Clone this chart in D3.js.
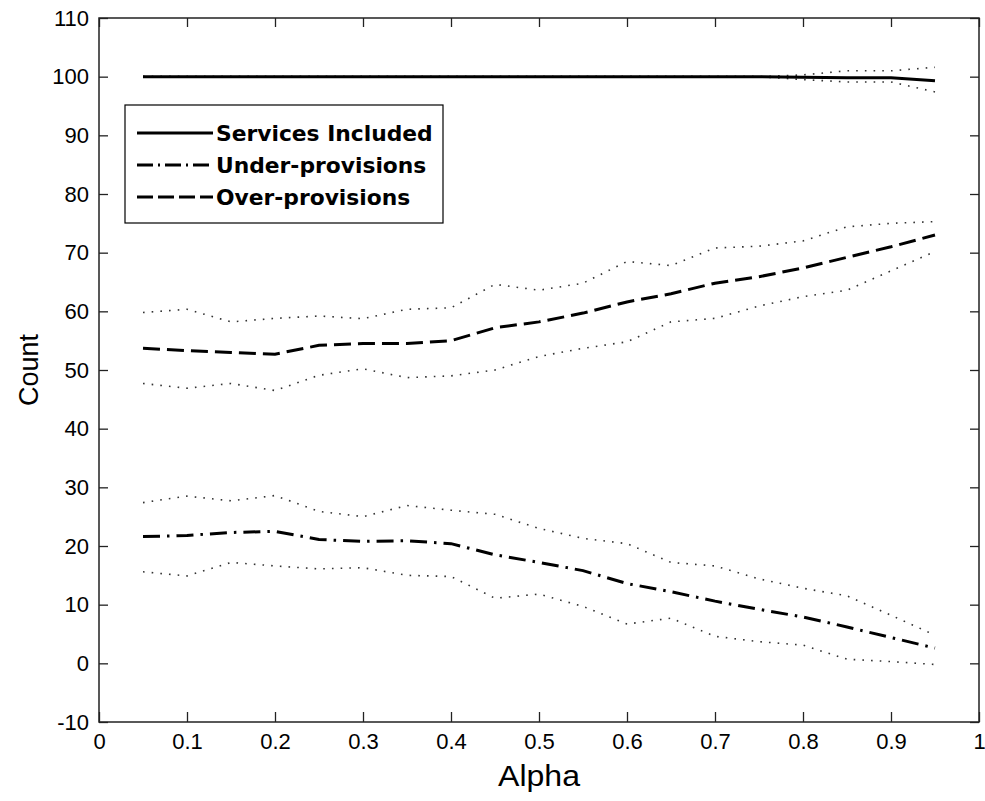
<!DOCTYPE html>
<html>
<head>
<meta charset="utf-8">
<script src="https://cdn.jsdelivr.net/npm/d3@7"></script>
<style>
  html, body { margin: 0; padding: 0; background: #fff; }
  svg { display: block; }
</style>
</head>
<body>
<svg id="chart" width="985" height="801"></svg>
<script>
// Alpha values at which each count was measured
const alpha = [0.05, 0.10, 0.15, 0.20, 0.25, 0.30, 0.35, 0.40, 0.45, 0.50,
               0.55, 0.60, 0.65, 0.70, 0.75, 0.80, 0.85, 0.90, 0.95];

// Services included: mean and spread band
const servicesMean  = [100, 100, 100, 100, 100, 100, 100, 100, 100, 100,
                       100, 100, 100, 100, 100, 99.9, 99.8, 99.8, 99.3];
const servicesUpper = [100, 100, 100, 100, 100, 100, 100, 100, 100, 100,
                       100, 100, 100, 100, 100, 100.3, 101.0, 101.0, 101.6];
const servicesLower = [100, 100, 100, 100, 100, 100, 100, 100, 100, 100,
                       100, 100, 100, 100, 100, 99.5, 99.1, 99.1, 97.4];

// Under-provisions: mean and spread band
const underMean  = [21.6, 21.8, 22.3, 22.5, 21.1, 20.8, 20.9, 20.4, 18.5, 17.2,
                    15.8, 13.6, 12.2, 10.6, 9.2, 7.9, 6.2, 4.4, 2.6];
const underUpper = [27.4, 28.5, 27.7, 28.6, 25.9, 25.0, 26.9, 26.1, 25.4, 23.0,
                    21.3, 20.4, 17.2, 16.6, 14.4, 12.8, 11.5, 8.2, 4.8];
const underLower = [15.6, 14.9, 17.2, 16.6, 16.1, 16.3, 15.0, 14.8, 11.1, 11.8,
                    9.7, 6.7, 7.7, 4.6, 3.7, 3.1, 0.7, 0.3, -0.2];

// Over-provisions: mean and spread band
const overMean  = [53.7, 53.3, 53.0, 52.7, 54.2, 54.5, 54.5, 55.0, 57.2, 58.2,
                   59.7, 61.6, 63.0, 64.8, 65.9, 67.4, 69.2, 71.0, 73.0];
const overUpper = [59.8, 60.35, 58.2, 58.8, 59.2, 58.75, 60.35, 60.6, 64.6, 63.6,
                   64.8, 68.5, 67.8, 70.8, 71.1, 72.0, 74.4, 75.0, 75.3];
const overLower = [47.7, 46.9, 47.7, 46.5, 49.1, 50.2, 48.7, 49.0, 50.0, 52.3,
                   53.7, 54.8, 58.2, 58.8, 60.9, 62.5, 63.6, 66.9, 70.2];

// Axis ticks and labels
const xTicks = [0, 0.1, 0.2, 0.3, 0.4, 0.5, 0.6, 0.7, 0.8, 0.9, 1];
const xTickLabels = ["0", "0.1", "0.2", "0.3", "0.4", "0.5", "0.6", "0.7", "0.8", "0.9", "1"];
const yTicks = [-10, 0, 10, 20, 30, 40, 50, 60, 70, 80, 90, 100, 110];
const yTickLabels = ["-10", "0", "10", "20", "30", "40", "50", "60", "70", "80", "90", "100", "110"];

const legendNames = ["Services Included", "Under-provisions", "Over-provisions"];
const xLabel = "Alpha";
const yLabel = "Count";

// ---- layout ----
const plot = { left: 99, right: 979, top: 18, bottom: 722 };
const svg = d3.select("#chart");

const x = d3.scaleLinear().domain([0, 1]).range([plot.left, plot.right]);
const y = d3.scaleLinear().domain([-10, 110]).range([plot.bottom, plot.top]);

const tickFont = "'Liberation Sans', Arial, Helvetica, sans-serif";
const axisColor = "#222";

// ---- axes (ticks point inward on all four sides) ----
const xAxis = d3.axisBottom(x).tickValues(xTicks)
  .tickFormat((d, i) => xTickLabels[i]).tickSizeInner(-10).tickSizeOuter(0).tickPadding(11);
const yAxis = d3.axisLeft(y).tickValues(yTicks)
  .tickFormat((d, i) => yTickLabels[i]).tickSizeInner(-9).tickSizeOuter(0).tickPadding(10);
const xAxisTop = d3.axisTop(x).tickValues(xTicks).tickFormat("").tickSizeInner(-9).tickSizeOuter(0);
const yAxisRight = d3.axisRight(y).tickValues(yTicks).tickFormat("").tickSizeInner(-9).tickSizeOuter(0);

function styleAxis(g) {
  g.select(".domain").remove();
  g.selectAll(".tick line").attr("stroke", axisColor).attr("stroke-width", 1.3);
  g.selectAll(".tick text").attr("fill", "#000")
    .style("font-family", tickFont).style("font-size", "22px");
}

svg.append("g").attr("transform", `translate(0,${plot.bottom})`).call(xAxis).call(styleAxis);
svg.append("g").attr("transform", `translate(${plot.left},0)`).call(yAxis).call(styleAxis);
svg.append("g").attr("transform", `translate(0,${plot.top})`).call(xAxisTop).call(styleAxis);
svg.append("g").attr("transform", `translate(${plot.right},0)`).call(yAxisRight).call(styleAxis);

// plot box
svg.append("rect")
  .attr("x", plot.left).attr("y", plot.top)
  .attr("width", plot.right - plot.left).attr("height", plot.bottom - plot.top)
  .attr("fill", "none").attr("stroke", axisColor).attr("stroke-width", 1.5);

// ---- axis titles ----
svg.append("text")
  .attr("x", (plot.left + plot.right) / 2).attr("y", 786)
  .attr("text-anchor", "middle")
  .attr("textLength", 82).attr("lengthAdjust", "spacingAndGlyphs")
  .style("font-family", tickFont).style("font-size", "29px").attr("fill", "#000")
  .text(xLabel);

svg.append("text")
  .attr("transform", `translate(38,${(plot.top + plot.bottom) / 2}) rotate(-90)`)
  .attr("text-anchor", "middle")
  .style("font-family", tickFont).style("font-size", "27px").attr("fill", "#000")
  .text(yLabel);

// ---- series ----
const line = d3.line().x((d, i) => x(alpha[i])).y(d => y(d));

const dotted = { dash: "1.6,7.1", width: 1.6, color: "#333" };
const styles = {
  solid:   { dash: null,          width: 3, color: "#000" },
  dashdot: { dash: "17,7,2.5,7", width: 3, color: "#000" },
  dashed:  { dash: "17,7",        width: 3, color: "#000" }
};

function drawLine(values, st) {
  svg.append("path")
    .datum(values)
    .attr("d", line)
    .attr("fill", "none")
    .attr("stroke", st.color)
    .attr("stroke-width", st.width)
    .attr("stroke-dasharray", st.dash);
}

// spread bands (dotted)
[servicesUpper, servicesLower, underUpper, underLower, overUpper, overLower]
  .forEach(v => drawLine(v, dotted));

// means
drawLine(servicesMean, styles.solid);
drawLine(underMean, styles.dashdot);
drawLine(overMean, styles.dashed);

// ---- legend ----
const legend = svg.append("g");
legend.append("rect")
  .attr("x", 125).attr("y", 105).attr("width", 318).attr("height", 118)
  .attr("fill", "#fff").attr("stroke", "#000").attr("stroke-width", 1.2);

const legendStyles = [styles.solid, { dash: "16,5,2,5", width: 3 }, { dash: "16,5", width: 3 }];
legendNames.forEach((name, i) => {
  const cy = 133 + i * 32;
  legend.append("line")
    .attr("x1", 137).attr("x2", 213).attr("y1", cy).attr("y2", cy)
    .attr("stroke", "#000").attr("stroke-width", legendStyles[i].width)
    .attr("stroke-dasharray", legendStyles[i].dash);
  legend.append("text")
    .attr("x", 216).attr("y", cy).attr("dy", "0.36em")
    .style("font-family", "'DejaVu Sans', sans-serif").style("font-weight", "bold")
    .style("font-size", "21.8px").attr("fill", "#000")
    .text(name);
});
</script>
</body>
</html>
